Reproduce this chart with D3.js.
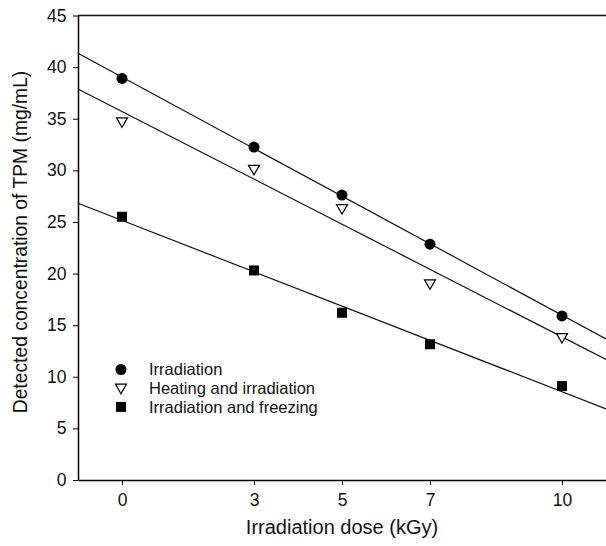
<!DOCTYPE html>
<html>
<head>
<meta charset="utf-8">
<script src="https://cdn.jsdelivr.net/npm/d3@7"></script>
<style>
  body { margin: 0; background: #fff; }
  text { font-family: "Liberation Sans", Arial, sans-serif; fill: #111; }
</style>
</head>
<body>
<div id="chart"></div>
<script>
// dose values (kGy)
var doses = [0, 3, 5, 7, 10];
// detected concentration (mg/mL)
var irradiation = [38.9, 32.25, 27.6, 22.85, 15.9];
var heatingIrradiation = [34.7, 30.1, 26.3, 19.0, 13.8];
var irradiationFreezing = [25.5, 20.3, 16.2, 13.15, 9.1];
var seriesNames = ["Irradiation", "Heating and irradiation", "Irradiation and freezing"];
var xTicks = [0, 3, 5, 7, 10];
var yTicks = [0, 5, 10, 15, 20, 25, 30, 35, 40, 45];

var width = 606, height = 546;
var margin = { top: 15.5, right: 0, bottom: 66, left: 78 };

var svg = d3.select("#chart").append("svg")
    .attr("width", width)
    .attr("height", height);

var x = d3.scaleLinear().domain([-1, 11]).range([margin.left, width - margin.right]);
var y = d3.scaleLinear().domain([0, 45]).range([height - margin.bottom, margin.top]);

// least squares fit for each series
function fit(xs, ys) {
    var mx = d3.mean(xs), my = d3.mean(ys);
    var sxy = d3.sum(xs, function (d, i) { return (d - mx) * (ys[i] - my); });
    var sxx = d3.sum(xs, function (d) { return (d - mx) * (d - mx); });
    var b = sxy / sxx;
    return { slope: b, intercept: my - b * mx };
}

var series = [
    { name: seriesNames[0], values: irradiation, shape: "circle" },
    { name: seriesNames[1], values: heatingIrradiation, shape: "triangle" },
    { name: seriesNames[2], values: irradiationFreezing, shape: "square" }
];

// axes
var xAxis = d3.axisBottom(x).tickValues(xTicks).tickSize(5).tickSizeOuter(0);
var yAxis = d3.axisLeft(y).tickValues(yTicks).tickSize(5).tickSizeOuter(0);

var gx = svg.append("g")
    .attr("transform", "translate(0," + y(0) + ")")
    .call(xAxis);
gx.select(".domain").attr("stroke-width", 1.5);
gx.selectAll("text").attr("font-size", 17.5).attr("dy", "1.05em");

var gy = svg.append("g")
    .attr("transform", "translate(" + x(-1) + ",0)")
    .call(yAxis);
gy.select(".domain").attr("stroke-width", 1.5);
gy.selectAll("text").attr("font-size", 17.5).attr("dx", "-0.2em");

// top border
svg.append("line")
    .attr("x1", x(-1)).attr("x2", x(11))
    .attr("y1", y(45)).attr("y2", y(45))
    .attr("stroke", "#111").attr("stroke-width", 1.5);

// axis titles
svg.append("text")
    .attr("x", x(5))
    .attr("y", 534)
    .attr("text-anchor", "middle")
    .attr("font-size", 20)
    .text("Irradiation dose (kGy)");

svg.append("text")
    .attr("transform", "translate(26.5,242) rotate(-90)")
    .attr("text-anchor", "middle")
    .attr("font-size", 19.3)
    .text("Detected concentration of TPM (mg/mL)");

// regression lines
series.forEach(function (s) {
    var f = fit(doses, s.values);
    var line = d3.line()
        .x(function (d) { return x(d); })
        .y(function (d) { return y(f.intercept + f.slope * d); });
    svg.append("path")
        .datum([-1, 11])
        .attr("d", line)
        .attr("fill", "none")
        .attr("stroke", "#111")
        .attr("stroke-width", 1.2);
});

// markers
function drawMarker(g, shape) {
    if (shape === "circle") {
        g.append("circle").attr("r", 5.5).attr("fill", "#000");
    } else if (shape === "square") {
        g.append("rect").attr("x", -5).attr("y", -5).attr("width", 10).attr("height", 10).attr("fill", "#000");
    } else {
        g.append("path")
            .attr("d", "M-5.5,-4 L5.5,-4 L0,5.5 Z")
            .attr("fill", "#fff")
            .attr("stroke", "#000")
            .attr("stroke-width", 1.2);
    }
}

series.forEach(function (s) {
    doses.forEach(function (d, i) {
        var g = svg.append("g")
            .attr("transform", "translate(" + x(d) + "," + y(s.values[i]) + ")");
        drawMarker(g, s.shape);
    });
});

// legend
var legend = svg.append("g").attr("transform", "translate(121,369.5)");
series.forEach(function (s, i) {
    var row = legend.append("g").attr("transform", "translate(0," + (i * 18.7) + ")");
    drawMarker(row, s.shape);
    row.append("text")
        .attr("x", 28)
        .attr("y", 0)
        .attr("dy", "0.35em")
        .attr("font-size", 16.5)
        .text(s.name);
});
</script>
</body>
</html>
